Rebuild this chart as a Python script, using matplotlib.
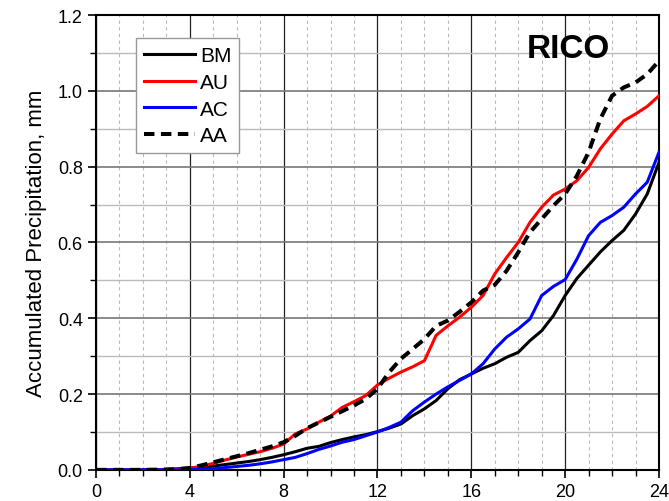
import numpy as np
import matplotlib.pyplot as plt
from matplotlib.ticker import MultipleLocator

plt.rcParams['font.family'] = ['Liberation Sans', 'DejaVu Sans']

# hours
t = [0, 1, 2, 3, 3.5, 4, 4.5, 5, 5.5, 6, 6.5, 7, 7.5, 8, 8.5, 9, 9.5, 10, 10.5, 11, 11.5,
     12, 12.5, 13, 13.5, 14, 14.5, 15, 15.5, 16, 16.5, 17, 17.5, 18, 18.5, 19, 19.5,
     20, 20.5, 21, 21.5, 22, 22.5, 23, 23.5, 24]

bm = [0, 0, 0, 0.001, 0.003, 0.005, 0.007, 0.01, 0.014, 0.018, 0.022, 0.027, 0.033, 0.04, 0.048,
      0.057, 0.062, 0.072, 0.08, 0.087, 0.093, 0.101, 0.11, 0.121, 0.143, 0.161, 0.183, 0.214,
      0.238, 0.253, 0.268, 0.28, 0.297, 0.31, 0.341, 0.367, 0.407, 0.46, 0.505, 0.54, 0.575,
      0.605, 0.632, 0.675, 0.728, 0.811]
au = [0, 0, 0, 0.001, 0.002, 0.004, 0.01, 0.017, 0.026, 0.034, 0.041, 0.048, 0.057, 0.068,
      0.095, 0.108, 0.126, 0.142, 0.165, 0.18, 0.196, 0.224, 0.242, 0.258, 0.272, 0.288, 0.355,
      0.38, 0.403, 0.429, 0.46, 0.517, 0.56, 0.6, 0.653, 0.693, 0.725, 0.741, 0.763, 0.798,
      0.847, 0.886, 0.921, 0.939, 0.959, 0.987]
ac = [0, 0, 0, 0, 0, 0.001, 0.002, 0.003, 0.006, 0.009, 0.012, 0.016, 0.021, 0.027, 0.033,
      0.043, 0.054, 0.063, 0.073, 0.08, 0.09, 0.1, 0.112, 0.126, 0.156, 0.179, 0.2, 0.219,
      0.236, 0.253, 0.28, 0.319, 0.35, 0.372, 0.398, 0.46, 0.484, 0.502, 0.556, 0.618, 0.653,
      0.671, 0.693, 0.728, 0.759, 0.838]
aa = [0, 0, 0, 0.001, 0.002, 0.005, 0.012, 0.02, 0.028, 0.036, 0.044, 0.053, 0.062, 0.073,
      0.09, 0.11, 0.125, 0.14, 0.155, 0.17, 0.187, 0.214, 0.258, 0.293, 0.319, 0.345, 0.38,
      0.394, 0.417, 0.442, 0.473, 0.488, 0.525, 0.574, 0.627, 0.662, 0.697, 0.728, 0.776,
      0.838, 0.926, 0.987, 1.009, 1.022, 1.044, 1.079]

fig = plt.figure(figsize=(6.69, 5.02), dpi=100)
ax = fig.add_axes([0.1435, 0.062, 0.8415, 0.906])

ax.plot(t, bm, color='black', lw=2.2, label='BM', zorder=5)
ax.plot(t, au, color='red', lw=2.2, label='AU', zorder=5)
ax.plot(t, ac, color='blue', lw=2.2, label='AC', zorder=5)
ax.plot(t, aa, color='black', lw=2.9, ls=(0, (2.6, 1.6)), label='AA', zorder=6)

ax.set_xlim(0, 24)
ax.set_ylim(0, 1.2)
ax.xaxis.set_major_locator(MultipleLocator(4))
ax.xaxis.set_minor_locator(MultipleLocator(1))
ax.yaxis.set_major_locator(MultipleLocator(0.2))
ax.yaxis.set_minor_locator(MultipleLocator(0.1))
ax.yaxis.set_major_formatter(plt.FormatStrFormatter('%.1f'))

ax.grid(which='major', axis='x', color='#222222', lw=0.9)
ax.grid(which='minor', axis='x', color='#bbbbbb', lw=0.8, ls=(0, (3, 3)))
ax.grid(which='major', axis='y', color='#777777', lw=1.2)
ax.grid(which='minor', axis='y', color='#bbbbbb', lw=1.0)
ax.set_axisbelow(True)

ax.tick_params(which='major', direction='out', length=6, width=1.2, labelsize=13, colors='black')
ax.tick_params(which='minor', direction='out', length=4, width=1.0)
for s in ax.spines.values():
    s.set_linewidth(1.5)

ax.set_ylabel('Accumulated Precipitation, mm', fontsize=16, labelpad=8)

ax.text(0.913, 0.927, 'RICO', transform=ax.transAxes, fontsize=24, fontweight='bold',
        ha='right', va='center')

leg = ax.legend(loc='upper left', bbox_to_anchor=(0.071, 0.949), borderaxespad=0, fontsize=15,
                handlelength=2.45, handletextpad=0.24, labelspacing=0.37, borderpad=0.38,
                fancybox=False, framealpha=1, edgecolor='#999999')
leg.get_frame().set_linewidth(1.0)

fig.savefig('out.png', dpi=100)
